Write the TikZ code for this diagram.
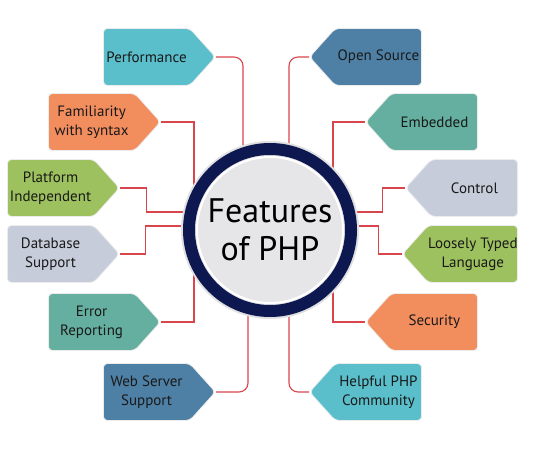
\documentclass[tikz,border=0pt]{standalone}
\usepackage{fontspec}
\setmainfont{PT Sans}
\usetikzlibrary{shapes.symbols,calc}
\definecolor{cyanbx}{HTML}{5BBFCB}
\definecolor{orangebx}{HTML}{F28D5E}
\definecolor{greenbx}{HTML}{9DC15E}
\definecolor{greybx}{HTML}{C6CCD9}
\definecolor{tealbx}{HTML}{64AF9F}
\definecolor{steelbx}{HTML}{4E80A5}
\definecolor{ringc}{HTML}{0D1850}
\definecolor{hubfill}{HTML}{E6E6E8}
\definecolor{linkc}{HTML}{D8454C}
\tikzset{
  feat/.style={signal,signal pointer angle=96,draw=white!85!gray,line width=0.8pt,
    rounded corners=4pt,minimum height=57pt,minimum width=112pt,inner xsep=0pt,inner ysep=2pt,
    align=center,font=\fontsize{15}{19}\selectfont,text=black!90},
  featL/.style={feat,signal to=east,anchor=west},
  featR/.style={feat,signal to=west,anchor=east},
  link/.style={draw=linkc,line width=1.1pt},
}
\begin{document}
\begin{tikzpicture}[x=1pt,y=1pt]
\useasboundingbox (0,0) rectangle (540,450);
\coordinate (hub) at (270,220);
% left column
\node[featL,fill=cyanbx] (perf) at (103,393) {Performance};
\node[featL,fill=orangebx] (fam) at (48,328) {Familiarity\\with syntax};
\node[featL,fill=greenbx] (plat) at (7,262) {Platform\\Independent};
\node[featL,fill=greybx] (db) at (7,196) {Database\\Support};
\node[featL,fill=tealbx] (err) at (48,128) {Error\\Reporting};
\node[featL,fill=steelbx] (web) at (103,58) {Web Server\\Support};
% right column
\node[featR,fill=steelbx] (open) at (422,393) {Open Source};
\node[featR,fill=tealbx] (emb) at (478,328) {Embedded};
\node[featR,fill=greybx] (ctrl) at (518,262) {Control};
\node[featR,fill=greenbx] (loose) at (518,196) {Loosely Typed\\Language};
\node[featR,fill=orangebx] (sec) at (478,128) {Security};
\node[featR,fill=cyanbx] (help) at (422,58) {Helpful PHP\\Community};
% connectors
\draw[link,rounded corners=9pt] (perf.east) -| ([xshift=-27pt]hub);
\draw[link] (fam.east) -| ([xshift=-76pt]hub);
\draw[link] (plat.east) -- ++(27,0) |- ([yshift=18pt]hub);
\draw[link] (db.east) -- ++(26,0) |- ([yshift=4pt]hub);
\draw[link] (err.east) -| ([xshift=-76pt]hub);
\draw[link,rounded corners=9pt] (web.east) -| ([xshift=-22pt]hub);
\draw[link,rounded corners=9pt] (open.west) -| ([xshift=19pt]hub);
\draw[link] (emb.west) -| ([xshift=63pt]hub);
\draw[link] (ctrl.west) -- ++(-23,0) |- ([yshift=18pt]hub);
\draw[link] (loose.west) -- ++(-23,0) |- ([yshift=4pt]hub);
\draw[link] (sec.west) -| ([xshift=63pt]hub);
\draw[link,rounded corners=9pt] (help.west) -| ([xshift=19pt]hub);
% centre
\fill[black!12] (hub) circle[radius=89];
\draw[ringc,line width=12pt,fill=hubfill] (hub) circle[radius=81];
\draw[white,line width=2pt] (hub) circle[radius=73];
\node[align=center,font=\fontsize{34}{38}\selectfont,text=black] (title) at (hub) {Features\\of PHP};
\end{tikzpicture}
\end{document}
